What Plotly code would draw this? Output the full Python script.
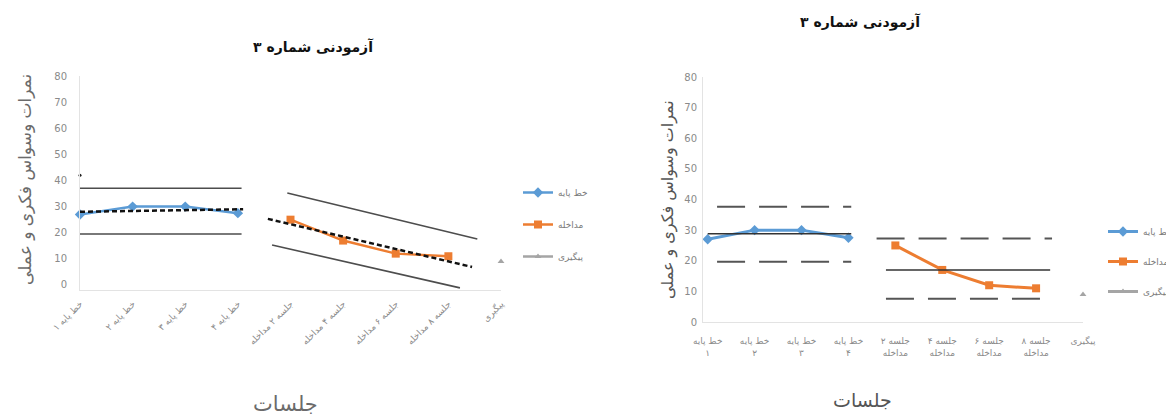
import plotly.graph_objects as go

# ---------------- data ----------------
idx = list(range(9))
labels_left = ["خط پایه ۱", "خط پایه ۲", "خط پایه ۳", "خط پایه ۴",
               "جلسه ۲ مداخله", "جلسه ۴ مداخله", "جلسه ۶ مداخله", "جلسه ۸ مداخله", "پیگیری"]
labels_right = ["خط پایه<br>۱", "خط پایه<br>۲", "خط پایه<br>۳", "خط پایه<br>۴",
                "جلسه ۲<br>مداخله", "جلسه ۴<br>مداخله", "جلسه ۶<br>مداخله", "جلسه ۸<br>مداخله", "پیگیری"]
y_ticks = [0, 10, 20, 30, 40, 50, 60, 70, 80]

baseline_x = [0, 1, 2, 3]
baseline_y = [27, 30, 30, 27.5]
interv_x = [4, 5, 6, 7]
interv_y = [25, 17, 12, 11]
follow_x = [8]
follow_y = [9]

series_names = ["خط پایه", "مداخله", "پیگیری"]

# left chart: phase bands and trend lines (x in session index, y in score)
L_base_upper_x, L_base_upper_y = [0, 3.07], [37, 37]
L_base_lower_x, L_base_lower_y = [0, 3.07], [19.5, 19.5]
L_base_trend_x, L_base_trend_y = [0, 3.1], [28, 29]
L_int_upper_x, L_int_upper_y = [3.94, 7.55], [35.2, 17.6]
L_int_lower_x, L_int_lower_y = [3.65, 7.22], [15.3, -1.1]
L_int_trend_x, L_int_trend_y = [3.57, 7.45], [25.3, 6.9]
L_dot_x, L_dot_y = [0], [42]

# right chart: mean and band lines
R_base_upper_x, R_base_upper_y = [0.2, 3.06], [37.6, 37.6]
R_base_mean_x, R_base_mean_y = [0, 3.06], [28.8, 28.8]
R_base_lower_x, R_base_lower_y = [0.2, 3.06], [19.7, 19.7]
R_int_upper_x, R_int_upper_y = [3.6, 7.34], [27.3, 27.3]
R_int_mean_x, R_int_mean_y = [3.8, 7.3], [17, 17]
R_int_lower_x, R_int_lower_y = [3.8, 7.34], [7.6, 7.6]

title_text = "آزمودنی شماره ۳"
ytitle_text = "نمرات وسواس فکری و عملی"
xtitle_text = "جلسات"

# ---------------- style ----------------
BLUE = "#5B9BD5"
ORANGE = "#ED7D31"
GRAY = "#A5A5A5"
DARK = "#4d4d4d"
TXT = "#6b6b6b"
FONT = "DejaVu Sans"
W, H = 1174, 418
OX, OY = 8, 8  # page body margin


def px(x):
    return (x - OX) / W


def py(y):
    return 1 - (y - OY) / H


fig = go.Figure()


def add_series(xa, ya, leg, lw):
    fig.add_trace(go.Scatter(x=baseline_x, y=baseline_y, name=series_names[0], mode="lines+markers",
                             line=dict(color=BLUE, width=lw), marker=dict(symbol="diamond", size=8, color=BLUE),
                             xaxis=xa, yaxis=ya, legend=leg, legendgroup=leg + "a", cliponaxis=False))
    fig.add_trace(go.Scatter(x=interv_x, y=interv_y, name=series_names[1], mode="lines+markers",
                             line=dict(color=ORANGE, width=lw), marker=dict(symbol="square", size=8, color=ORANGE),
                             xaxis=xa, yaxis=ya, legend=leg, legendgroup=leg + "b", cliponaxis=False))
    fig.add_trace(go.Scatter(x=follow_x, y=follow_y, name=series_names[2], mode="lines+markers",
                             line=dict(color=GRAY, width=lw), marker=dict(symbol="triangle-up", size=6, color=GRAY),
                             xaxis=xa, yaxis=ya, legend=leg, legendgroup=leg + "c", cliponaxis=False))


def add_line(xs, ys, xa, ya, color, width, dash="solid"):
    fig.add_trace(go.Scatter(x=xs, y=ys, mode="lines", line=dict(color=color, width=width, dash=dash),
                             xaxis=xa, yaxis=ya, showlegend=False, hoverinfo="skip"))


# left chart
add_series("x", "y", "legend", 2.5)
add_line(L_base_upper_x, L_base_upper_y, "x", "y", DARK, 1.6)
add_line(L_base_lower_x, L_base_lower_y, "x", "y", DARK, 1.6)
add_line(L_int_upper_x, L_int_upper_y, "x", "y", DARK, 1.6)
add_line(L_int_lower_x, L_int_lower_y, "x", "y", DARK, 1.6)
add_line(L_base_trend_x, L_base_trend_y, "x", "y", "#111111", 2.5, "5px,3px")
add_line(L_int_trend_x, L_int_trend_y, "x", "y", "#111111", 2.5, "5px,3px")
fig.add_trace(go.Scatter(x=L_dot_x, y=L_dot_y, mode="markers", marker=dict(size=3, color="#222"),
                         xaxis="x", yaxis="y", showlegend=False, cliponaxis=False))

# right chart
add_line(R_base_upper_x, R_base_upper_y, "x2", "y2", "#555555", 2, "28px,14px")
add_line(R_base_lower_x, R_base_lower_y, "x2", "y2", "#555555", 2, "28px,14px")
add_line(R_int_upper_x, R_int_upper_y, "x2", "y2", "#555555", 2, "28px,14px")
add_line(R_int_lower_x, R_int_lower_y, "x2", "y2", "#555555", 2, "28px,14px")
add_series("x2", "y2", "legend2", 3)
add_line(R_base_mean_x, R_base_mean_y, "x2", "y2", "#333333", 1.6)
add_line(R_int_mean_x, R_int_mean_y, "x2", "y2", "#333333", 1.6)

axis_common = dict(showgrid=False, zeroline=False, showline=True, linecolor="#e3e3e3", linewidth=1,
                   automargin=False)

fig.update_layout(
    template="none",
    width=W, height=H, margin=dict(l=0, r=0, t=0, b=0, pad=0),
    paper_bgcolor="white", plot_bgcolor="white",
    font=dict(family=FONT, color=TXT),
    xaxis=dict(domain=[px(80), px(501)], range=[0, 8], tickvals=idx, ticktext=labels_left,
               tickangle=-45, tickfont=dict(size=9, color="#8a8a8a"), ticks="outside", ticklen=4,
               tickcolor="rgba(0,0,0,0)", anchor="y", **axis_common),
    yaxis=dict(domain=[py(290.2), py(76)], range=[-2, 80], tickvals=y_ticks,
               tickfont=dict(size=10, color="#8a8a8a"), ticks="outside", ticklen=10,
               tickcolor="rgba(0,0,0,0)", anchor="x", **axis_common),
    xaxis2=dict(domain=[px(703), px(1083)], range=[-0.1, 8], tickvals=idx, ticktext=labels_right,
                tickangle=0, tickfont=dict(size=9, color="#8a8a8a"), ticks="outside", ticklen=10,
                tickcolor="rgba(0,0,0,0)", anchor="y2", **axis_common),
    yaxis2=dict(domain=[py(322), py(77)], range=[0, 80], tickvals=y_ticks,
                tickfont=dict(size=10, color="#8a8a8a"), ticks="outside", ticklen=3,
                tickcolor="rgba(0,0,0,0)", anchor="x2", **axis_common),
    legend=dict(x=px(518), y=py(178), xanchor="left", yanchor="top", bgcolor="rgba(0,0,0,0)",
                font=dict(size=9, color="#7a7a7a"), traceorder="grouped", tracegroupgap=13),
    legend2=dict(x=px(1103), y=py(217), xanchor="left", yanchor="top", bgcolor="rgba(0,0,0,0)",
                 font=dict(size=9, color="#7a7a7a"), traceorder="grouped", tracegroupgap=11),
    showlegend=True,
)

annotations = [
    dict(text="<b>" + title_text + "</b>", x=px(313), y=py(47), font=dict(size=14, color="#111")),
    dict(text="<b>" + title_text + "</b>", x=px(860), y=py(22), font=dict(size=14, color="#111")),
    dict(text=ytitle_text, x=px(25), y=py(180), textangle=-90, font=dict(size=17, color=TXT)),
    dict(text=ytitle_text, x=px(668), y=py(200), textangle=-90, font=dict(size=16, color="#555")),
    dict(text=xtitle_text, x=px(285), y=py(404), font=dict(size=21, color=TXT)),
    dict(text=xtitle_text, x=px(862), y=py(400), font=dict(size=19, color="#555")),
]
for a in annotations:
    a.update(xref="paper", yref="paper", showarrow=False, xanchor="center", yanchor="middle")
fig.update_layout(annotations=annotations)

fig.write_html("out.html")
